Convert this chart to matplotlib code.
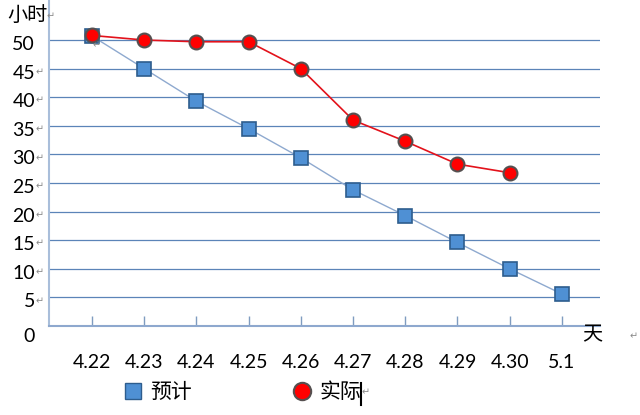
import matplotlib
matplotlib.use('Agg')
import matplotlib.pyplot as plt
import matplotlib.transforms as mtransforms
from matplotlib.lines import Line2D

plt.rcParams['font.family'] = ['Lato', 'Noto Sans CJK SC', 'DejaVu Sans']

# data
days = ['4.22', '4.23', '4.24', '4.25', '4.26', '4.27', '4.28', '4.29', '4.30', '5.1']
planned = [50.7, 45, 39.3, 34.5, 29.4, 23.8, 19.3, 14.6, 10, 5.6]
actual = [50.8, 50, 49.7, 49.7, 45, 36, 32.3, 28.3, 26.8]
y_ticks = [0, 5, 10, 15, 20, 25, 30, 35, 40, 45, 50]
series_names = ['预计', '实际']

BLUE_FILL = '#4F90D4'
BLUE_EDGE = '#2E5D8E'
BLUE_LINE = '#8EA9CF'
RED_FILL = '#FF0000'
RED_EDGE = '#555050'
RED_LINE = '#E3121B'
GRID = '#5B84B8'
MARK = '#8A8A8A'

fig = plt.figure(figsize=(6.4, 4.15), dpi=100)
ax = fig.add_axes([49 / 640, 1 - 326 / 415, 551 / 640, 326 / 415])

x = list(range(len(days)))
ax.plot(x, planned, color=BLUE_LINE, lw=1.0, marker='s', ms=9.5,
        mfc=BLUE_FILL, mec=BLUE_EDGE, mew=1.2, zorder=3)
ax.plot(x[:len(actual)], actual, color=RED_LINE, lw=1.2, marker='o', ms=10,
        mfc=RED_FILL, mec=RED_EDGE, mew=1.5, zorder=4)

ax.set_xlim(-0.824, 9.73)
ax.set_ylim(0, 57)

# y axis: gridlines, labels sitting a little below them
ax.set_yticks(y_ticks)
ax.set_yticklabels([str(v) for v in y_ticks])
ax.tick_params(axis='y', length=0, pad=10, labelsize=14)
ax.yaxis.grid(True, color=GRID, lw=0.9)
ax.set_axisbelow(True)
for lab, v in zip(ax.get_yticklabels(), y_ticks):
    dy = 0.09 if v == 0 else 0.03
    lab.set_transform(lab.get_transform() +
                      mtransforms.ScaledTranslation(0, -dy, fig.dpi_scale_trans))

# paragraph marks after the middle labels
blend = mtransforms.blended_transform_factory(ax.transAxes, ax.transData)
shift = mtransforms.ScaledTranslation(0, -0.04, fig.dpi_scale_trans)
for v in y_ticks[1:-1]:
    ax.text(-0.024, v, '\u21b5', transform=blend + shift, fontsize=7,
            color=MARK, va='center', ha='left')

# x axis
ax.set_xticks(x)
ax.set_xticklabels(days)
ax.tick_params(axis='x', direction='in', length=7.5, width=1,
               color='#7F9CC0', pad=20, labelsize=14)

for side in ['top', 'right']:
    ax.spines[side].set_visible(False)
ax.spines['left'].set_color('#A9BEDA')
ax.spines['left'].set_linewidth(1.5)
ax.spines['bottom'].set_color('#8EA8CE')
ax.spines['bottom'].set_linewidth(1.5)

# legend
handles = [
    Line2D([], [], ls='none', marker='s', ms=11, mfc=BLUE_FILL, mec=BLUE_EDGE, mew=1),
    Line2D([], [], ls='none', marker='o', ms=12.5, mfc=RED_FILL, mec=RED_EDGE, mew=1.5),
]
fig.legend(handles, series_names, loc='center',
           bbox_to_anchor=(242 / 640, 1 - 392 / 415), ncol=2, frameon=False,
           fontsize=15, handlelength=1.0, handletextpad=0.32,
           columnspacing=4.8, borderpad=0, borderaxespad=0)

# axis titles and stray marks from the original document
fig.text(7 / 640, 1 - 15 / 415, '小时', fontsize=14.5, va='center', ha='left')
fig.text(47 / 640, 1 - 17 / 415, '\u21b5', fontsize=7, color=MARK, va='center')
fig.text(582 / 640, 1 - 335 / 415, '天', fontsize=14.5, va='center', ha='left')
fig.text(630 / 640, 1 - 337 / 415, '\u21b5', fontsize=7, color=MARK, va='center')
fig.text(93 / 640, 1 - 46 / 415, '\u21b5', fontsize=7, color=MARK, va='center')
fig.text(362 / 640, 1 - 393 / 415, '\u21b5', fontsize=7, color=MARK, va='center')
fig.add_artist(Line2D([361 / 640] * 2, [1 - 383 / 415, 1 - 405 / 415],
                      color='black', lw=1.5, transform=fig.transFigure))

fig.savefig('out.png', dpi=100)
